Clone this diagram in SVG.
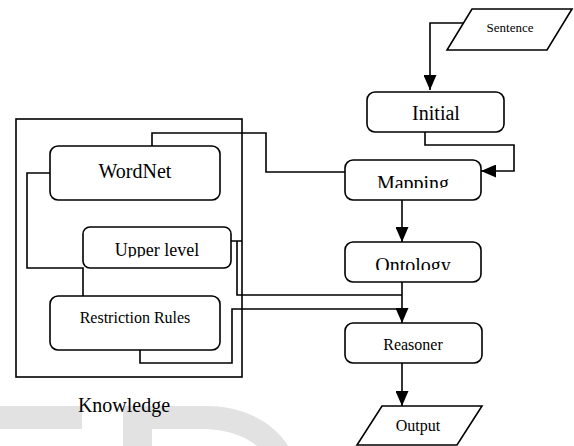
<svg xmlns="http://www.w3.org/2000/svg" width="574" height="446" viewBox="0 0 574 446">
<style>
.box{fill:#fff;stroke:#000;stroke-width:1.6}
.frame{fill:none;stroke:#000;stroke-width:1.6}
.ln{fill:none;stroke:#000;stroke-width:1.6}
.t{font-family:"Liberation Serif","Times New Roman",serif;fill:#000;text-anchor:middle}
.wm{fill:#e2e2e2}
</style>
<defs>
<marker id="ah" viewBox="0 0 15 13" refX="15" refY="6.5" markerWidth="15" markerHeight="13" markerUnits="userSpaceOnUse" orient="auto">
<path d="M0,0 L15,6.5 L0,13 Z" fill="#000"/>
</marker>
<clipPath id="cMap"><rect x="345" y="160" width="136" height="28"/></clipPath>
<clipPath id="cOnt"><rect x="345" y="242" width="136" height="28"/></clipPath>
<clipPath id="cUp"><rect x="83" y="227" width="148" height="30.5"/></clipPath>
</defs>
<rect width="574" height="446" fill="#fff"/>
<g id="watermark">
<rect class="wm" x="0" y="406" width="82" height="23"/>
<path class="wm" d="M123,406 H207 C245,406 275,424 288,446 H257 C246,437 228,429 200,429 H152 V446 H123 Z"/>
</g>
<g id="knowledge">
<rect class="frame" x="16" y="119" width="226" height="258"/>
<text class="t" x="124" y="412" font-size="20">Knowledge</text>
</g>
<g id="connectors">
<path class="ln" d="M463,23 H430 V90" marker-end="url(#ah)"/>
<path class="ln" d="M425,132 V145 H514 V171 H481" marker-end="url(#ah)"/>
<path class="ln" d="M152,146 V133 H266 V172 H345"/>
<path class="ln" d="M402,200 V242" marker-end="url(#ah)"/>
<path class="ln" d="M402,282 V323" marker-end="url(#ah)"/>
<path class="ln" d="M50,173 H27 V268 H83 V296"/>
<path class="ln" d="M231,241 H242 M237,241 V295 H402"/>
<path class="ln" d="M140,350 V363 H232 V309 H402"/>
<path class="ln" d="M402,363 V406" marker-end="url(#ah)"/>
</g>
<g id="sentence">
<polygon class="box" points="472,9 572,9 547,50 447,50"/>
<text class="t" x="510" y="32" font-size="13">Sentence</text>
</g>
<g id="initial">
<rect class="box" x="367" y="92" width="137" height="40" rx="8"/>
<text class="t" x="436" y="120" font-size="20">Initial</text>
</g>
<g id="mapping">
<rect class="box" x="345" y="160" width="136" height="40" rx="8"/>
<text class="t" x="413" y="190" font-size="20" clip-path="url(#cMap)">Mapping</text>
</g>
<g id="ontology">
<rect class="box" x="345" y="242" width="136" height="40" rx="8"/>
<text class="t" x="413" y="272" font-size="20" clip-path="url(#cOnt)">Ontology</text>
</g>
<g id="reasoner">
<rect class="box" x="345" y="323" width="137" height="40" rx="8"/>
<text class="t" x="413" y="350" font-size="16">Reasoner</text>
</g>
<g id="output">
<polygon class="box" points="382,406 482,406 457,445 357,445"/>
<text class="t" x="418" y="431" font-size="16">Output</text>
</g>
<g id="wordnet">
<rect class="box" x="50" y="146" width="170" height="54" rx="8"/>
<text class="t" x="135" y="178" font-size="20">WordNet</text>
</g>
<g id="upper-level">
<rect class="box" x="83" y="227" width="148" height="41" rx="7"/>
<text class="t" x="157" y="256" font-size="18" clip-path="url(#cUp)">Upper level</text>
</g>
<g id="restriction-rules">
<rect class="box" x="50" y="296" width="170" height="54" rx="8"/>
<text class="t" x="135" y="323" font-size="16">Restriction Rules</text>
</g>
</svg>
